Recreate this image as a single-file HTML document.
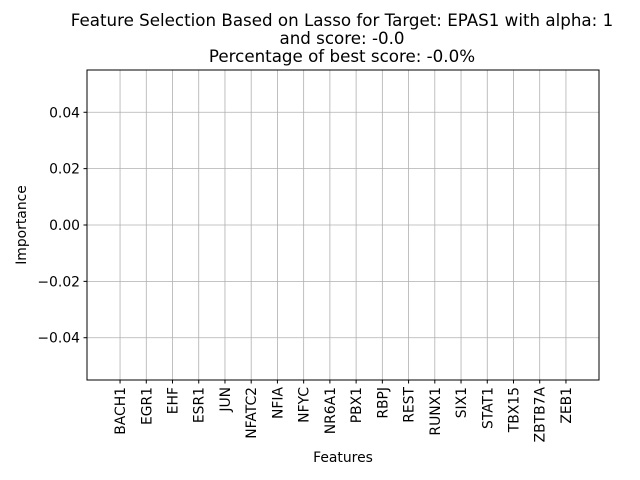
<!DOCTYPE html>
<html><head><meta charset="utf-8"><style>
body{margin:0;background:#fff;}
svg{display:block;font-family:"DejaVu Sans","Liberation Sans",sans-serif;}
</style></head><body>
<svg id="chart" width="640" height="480" xmlns="http://www.w3.org/2000/svg">
<g font-size="16.7" text-anchor="middle" fill="#000">
<text x="342" y="26">Feature Selection Based on Lasso for Target: EPAS1 with alpha: 1</text>
<text x="342" y="44">and score: -0.0</text>
<text x="342" y="62">Percentage of best score: -0.0%</text>
</g>
<g id="grid"></g>
<g id="bars"></g>
<g id="yticks"></g>
<g id="xticks"></g>
<rect x="87" y="70" width="512" height="310" fill="none" stroke="#000" stroke-width="1"/>
<text x="343" y="462" font-size="13.9" text-anchor="middle">Features</text>
<text transform="translate(26,225) rotate(-90)" font-size="13.9" text-anchor="middle">Importance</text>
</svg>
<script>
const categories=["BACH1","EGR1","EHF","ESR1","JUN","NFATC2","NFIA","NFYC","NR6A1","PBX1","RBPJ","REST","RUNX1","SIX1","STAT1","TBX15","ZBTB7A","ZEB1"];
const values=[0,0,0,0,0,0,0,0,0,0,0,0,0,0,0,0,0,0];
const yTicks=[-0.04,-0.02,0.00,0.02,0.04];
const yTickLabels=["\u22120.04","\u22120.02","0.00","0.02","0.04"];
const L=87,R=599,T=70,B=380;
const xMin=-1.26,xMax=categories.length-1+1.26,yMin=-0.055,yMax=0.055;
const xs=i=>L+(i-xMin)/(xMax-xMin)*(R-L);
const ys=v=>B-(v-yMin)/(yMax-yMin)*(B-T);
const NS="http://www.w3.org/2000/svg";
function mk(tag,attrs,parent){const e=document.createElementNS(NS,tag);for(const k in attrs)e.setAttribute(k,attrs[k]);parent.appendChild(e);return e;}
const grid=document.getElementById('grid'),bars=document.getElementById('bars'),yt=document.getElementById('yticks'),xt=document.getElementById('xticks');
yTicks.forEach((v,i)=>{const y=ys(v);
 const g=mk('line',{x1:L,x2:R,y1:y,y2:y,stroke:'#b0b0b0','stroke-width':0.8},grid);
 
 
 const t=mk('line',{x1:L-3.5,x2:L,y1:y,y2:y,stroke:'#000'},yt);
 
 
 const tx=mk('text',{x:L-7,y:y+5,'font-size':13.9,'text-anchor':'end'},yt);
 tx.textContent=yTickLabels[i];
 
 
});
categories.forEach((c,i)=>{const x=xs(i);
 const g=mk('line',{x1:x,x2:x,y1:T,y2:B,stroke:'#b0b0b0','stroke-width':0.8},grid);
 
 
 const bw=0.8*(xs(1)-xs(0));const y0=ys(0),y1=ys(values[i]);
 const b=mk('rect',{x:x-bw/2,y:Math.min(y0,y1),width:bw,height:Math.abs(y1-y0),fill:'#1f77b4'},bars);
 
 
 const t=mk('line',{x1:x,x2:x,y1:B,y2:B+3.5,stroke:'#000'},xt);
 
 
 const tx=mk('text',{transform:`translate(${x+5},${B+7}) rotate(-90)`,'font-size':13.9,'text-anchor':'end'},xt);
 tx.textContent=c;
 
 
});
</script>
</body></html>
